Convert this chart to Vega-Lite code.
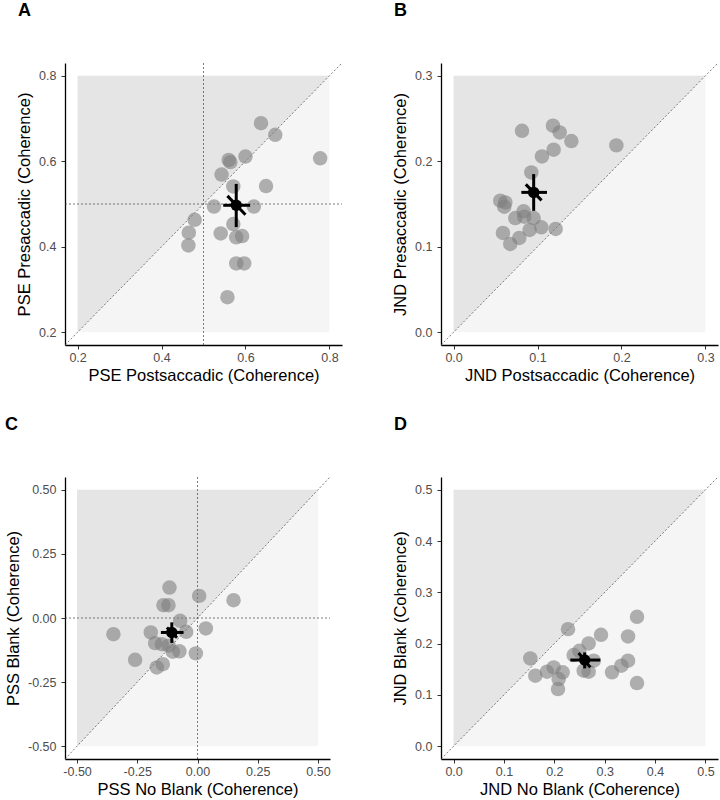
{
  "$schema": "https://vega.github.io/schema/vega-lite/v6.json",
  "padding": {"left": 5, "top": 1, "right": 0, "bottom": 2},
  "background": "white",
  "config": {
    "view": {"stroke": null},
    "font": "Liberation Sans",
    "locale": {"number": {"decimal": ".", "thousands": ",", "grouping": [3], "currency": ["$", ""], "minus": "-"}},
    "axis": {"grid": false, "domainColor": "#000", "domainWidth": 1.3, "tickColor": "#333", "tickSize": 4, "tickWidth": 1, "labelColor": "#4d4d4d", "labelFontSize": 12.5, "labelFont": "Liberation Sans", "titleFont": "Liberation Sans", "titleFontSize": 16.5, "titleFontWeight": "normal", "titleColor": "#000"},
    "axisX": {"labelPadding": 2, "titlePadding": 4},
    "axisY": {"labelPadding": 5, "titlePadding": 6},
    "title": {"fontSize": 18, "fontWeight": "bold", "font": "Liberation Sans", "anchor": "start", "frame": "group", "color": "#000"}
  },
  "datasets": {
    "box": [
      {"panel": "A", "x": 0.2, "x2": 0.8, "y": 0.2, "y2": 0.8},
      {"panel": "B", "x": 0, "x2": 0.3, "y": 0, "y2": 0.3},
      {"panel": "C", "x": -0.5, "x2": 0.5, "y": -0.5, "y2": 0.5},
      {"panel": "D", "x": 0, "x2": 0.5, "y": 0, "y2": 0.5}
    ],
    "shade": [
      {"panel": "A", "x": 0.2, "y": 0.2, "y2": 0.8},
      {"panel": "A", "x": 0.8, "y": 0.8, "y2": 0.8},
      {"panel": "B", "x": 0, "y": 0, "y2": 0.3},
      {"panel": "B", "x": 0.3, "y": 0.3, "y2": 0.3},
      {"panel": "C", "x": -0.5, "y": -0.5, "y2": 0.5},
      {"panel": "C", "x": 0.5, "y": 0.5, "y2": 0.5},
      {"panel": "D", "x": 0, "y": 0, "y2": 0.5},
      {"panel": "D", "x": 0.5, "y": 0.5, "y2": 0.5}
    ],
    "refs": [
      {"panel": "A", "x": 0.17, "y": 0.17, "x2": 0.83, "y2": 0.83},
      {"panel": "A", "x": 0.5, "y": 0.17, "x2": 0.5, "y2": 0.83},
      {"panel": "A", "x": 0.17, "y": 0.5, "x2": 0.83, "y2": 0.5},
      {"panel": "B", "x": -0.015, "y": -0.015, "x2": 0.315, "y2": 0.315},
      {"panel": "C", "x": -0.55, "y": -0.55, "x2": 0.55, "y2": 0.55},
      {"panel": "C", "x": 0, "y": -0.55, "x2": 0, "y2": 0.55},
      {"panel": "C", "x": -0.55, "y": 0, "x2": 0.55, "y2": 0},
      {"panel": "D", "x": -0.025, "y": -0.025, "x2": 0.525, "y2": 0.525}
    ],
    "pts": [
      {"panel": "A", "x": 0.637, "y": 0.689},
      {"panel": "A", "x": 0.671, "y": 0.662},
      {"panel": "A", "x": 0.778, "y": 0.607},
      {"panel": "A", "x": 0.600, "y": 0.611},
      {"panel": "A", "x": 0.560, "y": 0.603},
      {"panel": "A", "x": 0.564, "y": 0.598},
      {"panel": "A", "x": 0.543, "y": 0.569},
      {"panel": "A", "x": 0.571, "y": 0.541},
      {"panel": "A", "x": 0.649, "y": 0.542},
      {"panel": "A", "x": 0.525, "y": 0.494},
      {"panel": "A", "x": 0.620, "y": 0.494},
      {"panel": "A", "x": 0.479, "y": 0.463},
      {"panel": "A", "x": 0.465, "y": 0.433},
      {"panel": "A", "x": 0.464, "y": 0.403},
      {"panel": "A", "x": 0.541, "y": 0.431},
      {"panel": "A", "x": 0.571, "y": 0.453},
      {"panel": "A", "x": 0.578, "y": 0.422},
      {"panel": "A", "x": 0.592, "y": 0.425},
      {"panel": "A", "x": 0.578, "y": 0.361},
      {"panel": "A", "x": 0.597, "y": 0.361},
      {"panel": "A", "x": 0.557, "y": 0.282},
      {"panel": "B", "x": 0.0815, "y": 0.2357},
      {"panel": "B", "x": 0.1184, "y": 0.2416},
      {"panel": "B", "x": 0.1264, "y": 0.2338},
      {"panel": "B", "x": 0.1403, "y": 0.2236},
      {"panel": "B", "x": 0.1939, "y": 0.2186},
      {"panel": "B", "x": 0.1192, "y": 0.2135},
      {"panel": "B", "x": 0.1053, "y": 0.2057},
      {"panel": "B", "x": 0.0926, "y": 0.1870},
      {"panel": "B", "x": 0.0556, "y": 0.1539},
      {"panel": "B", "x": 0.0616, "y": 0.1519},
      {"panel": "B", "x": 0.0604, "y": 0.1469},
      {"panel": "B", "x": 0.0834, "y": 0.1414},
      {"panel": "B", "x": 0.0842, "y": 0.1352},
      {"panel": "B", "x": 0.0735, "y": 0.1336},
      {"panel": "B", "x": 0.0954, "y": 0.1336},
      {"panel": "B", "x": 0.0588, "y": 0.1161},
      {"panel": "B", "x": 0.0783, "y": 0.1103},
      {"panel": "B", "x": 0.0675, "y": 0.1032},
      {"panel": "B", "x": 0.0906, "y": 0.1196},
      {"panel": "B", "x": 0.1045, "y": 0.1227},
      {"panel": "B", "x": 0.1216, "y": 0.1208},
      {"panel": "C", "x": -0.1163, "y": 0.1187},
      {"panel": "C", "x": 0.0069, "y": 0.0863},
      {"panel": "C", "x": 0.1496, "y": 0.0694},
      {"panel": "C", "x": -0.1413, "y": 0.0499},
      {"panel": "C", "x": -0.1205, "y": 0.0499},
      {"panel": "C", "x": -0.072, "y": -0.011},
      {"panel": "C", "x": -0.349, "y": -0.063},
      {"panel": "C", "x": -0.194, "y": -0.0564},
      {"panel": "C", "x": -0.047, "y": -0.0538},
      {"panel": "C", "x": 0.0346, "y": -0.0409},
      {"panel": "C", "x": -0.176, "y": -0.098},
      {"panel": "C", "x": -0.148, "y": -0.102},
      {"panel": "C", "x": -0.120, "y": -0.108},
      {"panel": "C", "x": -0.075, "y": -0.130},
      {"panel": "C", "x": -0.1025, "y": -0.1316},
      {"panel": "C", "x": -0.0069, "y": -0.138},
      {"panel": "C", "x": -0.259, "y": -0.163},
      {"panel": "C", "x": -0.144, "y": -0.180},
      {"panel": "C", "x": -0.169, "y": -0.193},
      {"panel": "D", "x": 0.3642, "y": 0.2523},
      {"panel": "D", "x": 0.2272, "y": 0.2283},
      {"panel": "D", "x": 0.2927, "y": 0.2173},
      {"panel": "D", "x": 0.3464, "y": 0.2140},
      {"panel": "D", "x": 0.2682, "y": 0.2004},
      {"panel": "D", "x": 0.2497, "y": 0.1861},
      {"panel": "D", "x": 0.2384, "y": 0.1777},
      {"panel": "D", "x": 0.1523, "y": 0.1712},
      {"panel": "D", "x": 0.2781, "y": 0.1667},
      {"panel": "D", "x": 0.3464, "y": 0.1667},
      {"panel": "D", "x": 0.3331, "y": 0.1569},
      {"panel": "D", "x": 0.3146, "y": 0.1440},
      {"panel": "D", "x": 0.1623, "y": 0.1375},
      {"panel": "D", "x": 0.1854, "y": 0.1453},
      {"panel": "D", "x": 0.1987, "y": 0.1537},
      {"panel": "D", "x": 0.2166, "y": 0.1440},
      {"panel": "D", "x": 0.2086, "y": 0.1310},
      {"panel": "D", "x": 0.2073, "y": 0.1115},
      {"panel": "D", "x": 0.2583, "y": 0.1472},
      {"panel": "D", "x": 0.2682, "y": 0.1453},
      {"panel": "D", "x": 0.3642, "y": 0.1232}
    ],
    "err": [
      {"panel": "A", "x": 0.578, "y": 0.446, "x2": 0.578, "y2": 0.547},
      {"panel": "A", "x": 0.547, "y": 0.497, "x2": 0.611, "y2": 0.497},
      {"panel": "A", "x": 0.557, "y": 0.519, "x2": 0.600, "y2": 0.475},
      {"panel": "B", "x": 0.0954, "y": 0.142, "x2": 0.0954, "y2": 0.185},
      {"panel": "B", "x": 0.0807, "y": 0.1636, "x2": 0.1113, "y2": 0.1636},
      {"panel": "B", "x": 0.086, "y": 0.173, "x2": 0.1048, "y2": 0.1542},
      {"panel": "C", "x": -0.1066, "y": -0.097, "x2": -0.1066, "y2": -0.017},
      {"panel": "C", "x": -0.152, "y": -0.0564, "x2": -0.058, "y2": -0.0564},
      {"panel": "C", "x": -0.127, "y": -0.037, "x2": -0.085, "y2": -0.077},
      {"panel": "D", "x": 0.2603, "y": 0.1518, "x2": 0.2603, "y2": 0.1829},
      {"panel": "D", "x": 0.2318, "y": 0.168, "x2": 0.2914, "y2": 0.168},
      {"panel": "D", "x": 0.2483, "y": 0.1816, "x2": 0.2715, "y2": 0.1537}
    ],
    "means": [
      {"panel": "A", "x": 0.578, "y": 0.497},
      {"panel": "B", "x": 0.0954, "y": 0.1636},
      {"panel": "C", "x": -0.1066, "y": -0.0564},
      {"panel": "D", "x": 0.2603, "y": 0.168}
    ]
  },
  "columns": 2,
  "spacing": {"row": 132, "column": 99},
  "bounds": "flush",
  "align": "all",
  "concat": [
    {
      "width": 277, "height": 282,
      "title": {"text": "A", "dx": -47, "offset": 43},
      "encoding": {
        "x": {"field": "x", "type": "quantitative", "title": "PSE Postsaccadic (Coherence)", "scale": {"domain": [0.17, 0.83], "nice": false, "zero": false}, "axis": {"values": [0.2, 0.4, 0.6, 0.8], "format": ".1f"}},
        "y": {"field": "y", "type": "quantitative", "title": "PSE Presaccadic (Coherence)", "scale": {"domain": [0.17, 0.83], "nice": false, "zero": false}, "axis": {"values": [0.2, 0.4, 0.6, 0.8], "format": ".1f"}}
      },
      "layer": [
        {"data": {"name": "box"}, "transform": [{"filter": "datum.panel == 'A'"}], "mark": {"type": "rect", "color": "#f5f5f5"}, "encoding": {"x2": {"field": "x2"}, "y2": {"field": "y2"}}},
        {"data": {"name": "shade"}, "transform": [{"filter": "datum.panel == 'A'"}], "mark": {"type": "area", "color": "#e5e5e5", "opacity": 1}, "encoding": {"y2": {"field": "y2"}}},
        {"data": {"name": "refs"}, "transform": [{"filter": "datum.panel == 'A'"}], "mark": {"type": "rule", "color": "#444", "strokeDash": [2, 2], "strokeWidth": 0.7}, "encoding": {"x2": {"field": "x2"}, "y2": {"field": "y2"}}},
        {"data": {"name": "pts"}, "transform": [{"filter": "datum.panel == 'A'"}], "mark": {"type": "circle", "size": 210, "color": "#7f7f7f", "opacity": 0.6}},
        {"data": {"name": "err"}, "transform": [{"filter": "datum.panel == 'A'"}], "mark": {"type": "rule", "color": "#000", "strokeWidth": 3}, "encoding": {"x2": {"field": "x2"}, "y2": {"field": "y2"}}},
        {"data": {"name": "means"}, "transform": [{"filter": "datum.panel == 'A'"}], "mark": {"type": "circle", "size": 130, "color": "#000", "opacity": 1}}
      ]
    },
    {
      "width": 277, "height": 282,
      "title": {"text": "B", "dx": -47, "offset": 43},
      "encoding": {
        "x": {"field": "x", "type": "quantitative", "title": "JND Postsaccadic (Coherence)", "scale": {"domain": [-0.015, 0.315], "nice": false, "zero": false}, "axis": {"values": [0, 0.1, 0.2, 0.3], "format": ".1f"}},
        "y": {"field": "y", "type": "quantitative", "title": "JND Presaccadic (Coherence)", "scale": {"domain": [-0.015, 0.315], "nice": false, "zero": false}, "axis": {"values": [0, 0.1, 0.2, 0.3], "format": ".1f"}}
      },
      "layer": [
        {"data": {"name": "box"}, "transform": [{"filter": "datum.panel == 'B'"}], "mark": {"type": "rect", "color": "#f5f5f5"}, "encoding": {"x2": {"field": "x2"}, "y2": {"field": "y2"}}},
        {"data": {"name": "shade"}, "transform": [{"filter": "datum.panel == 'B'"}], "mark": {"type": "area", "color": "#e5e5e5", "opacity": 1}, "encoding": {"y2": {"field": "y2"}}},
        {"data": {"name": "refs"}, "transform": [{"filter": "datum.panel == 'B'"}], "mark": {"type": "rule", "color": "#444", "strokeDash": [2, 2], "strokeWidth": 0.7}, "encoding": {"x2": {"field": "x2"}, "y2": {"field": "y2"}}},
        {"data": {"name": "pts"}, "transform": [{"filter": "datum.panel == 'B'"}], "mark": {"type": "circle", "size": 210, "color": "#7f7f7f", "opacity": 0.6}},
        {"data": {"name": "err"}, "transform": [{"filter": "datum.panel == 'B'"}], "mark": {"type": "rule", "color": "#000", "strokeWidth": 3}, "encoding": {"x2": {"field": "x2"}, "y2": {"field": "y2"}}},
        {"data": {"name": "means"}, "transform": [{"filter": "datum.panel == 'B'"}], "mark": {"type": "circle", "size": 130, "color": "#000", "opacity": 1}}
      ]
    },
    {
      "width": 265, "height": 282,
      "title": {"text": "C", "dx": -60, "offset": 43},
      "encoding": {
        "x": {"field": "x", "type": "quantitative", "title": "PSS No Blank (Coherence)", "scale": {"domain": [-0.55, 0.55], "nice": false, "zero": false}, "axis": {"values": [-0.5, -0.25, 0, 0.25, 0.5], "format": ".2f"}},
        "y": {"field": "y", "type": "quantitative", "title": "PSS Blank (Coherence)", "scale": {"domain": [-0.55, 0.55], "nice": false, "zero": false}, "axis": {"values": [-0.5, -0.25, 0, 0.25, 0.5], "format": ".2f"}}
      },
      "layer": [
        {"data": {"name": "box"}, "transform": [{"filter": "datum.panel == 'C'"}], "mark": {"type": "rect", "color": "#f5f5f5"}, "encoding": {"x2": {"field": "x2"}, "y2": {"field": "y2"}}},
        {"data": {"name": "shade"}, "transform": [{"filter": "datum.panel == 'C'"}], "mark": {"type": "area", "color": "#e5e5e5", "opacity": 1}, "encoding": {"y2": {"field": "y2"}}},
        {"data": {"name": "refs"}, "transform": [{"filter": "datum.panel == 'C'"}], "mark": {"type": "rule", "color": "#444", "strokeDash": [2, 2], "strokeWidth": 0.7}, "encoding": {"x2": {"field": "x2"}, "y2": {"field": "y2"}}},
        {"data": {"name": "pts"}, "transform": [{"filter": "datum.panel == 'C'"}], "mark": {"type": "circle", "size": 210, "color": "#7f7f7f", "opacity": 0.6}},
        {"data": {"name": "err"}, "transform": [{"filter": "datum.panel == 'C'"}], "mark": {"type": "rule", "color": "#000", "strokeWidth": 3}, "encoding": {"x2": {"field": "x2"}, "y2": {"field": "y2"}}},
        {"data": {"name": "means"}, "transform": [{"filter": "datum.panel == 'C'"}], "mark": {"type": "circle", "size": 130, "color": "#000", "opacity": 1}}
      ]
    },
    {
      "width": 277, "height": 282,
      "title": {"text": "D", "dx": -47, "offset": 43},
      "encoding": {
        "x": {"field": "x", "type": "quantitative", "title": "JND No Blank (Coherence)", "scale": {"domain": [-0.025, 0.525], "nice": false, "zero": false}, "axis": {"values": [0, 0.1, 0.2, 0.3, 0.4, 0.5], "format": ".1f"}},
        "y": {"field": "y", "type": "quantitative", "title": "JND Blank (Coherence)", "scale": {"domain": [-0.025, 0.525], "nice": false, "zero": false}, "axis": {"values": [0, 0.1, 0.2, 0.3, 0.4, 0.5], "format": ".1f"}}
      },
      "layer": [
        {"data": {"name": "box"}, "transform": [{"filter": "datum.panel == 'D'"}], "mark": {"type": "rect", "color": "#f5f5f5"}, "encoding": {"x2": {"field": "x2"}, "y2": {"field": "y2"}}},
        {"data": {"name": "shade"}, "transform": [{"filter": "datum.panel == 'D'"}], "mark": {"type": "area", "color": "#e5e5e5", "opacity": 1}, "encoding": {"y2": {"field": "y2"}}},
        {"data": {"name": "refs"}, "transform": [{"filter": "datum.panel == 'D'"}], "mark": {"type": "rule", "color": "#444", "strokeDash": [2, 2], "strokeWidth": 0.7}, "encoding": {"x2": {"field": "x2"}, "y2": {"field": "y2"}}},
        {"data": {"name": "pts"}, "transform": [{"filter": "datum.panel == 'D'"}], "mark": {"type": "circle", "size": 210, "color": "#7f7f7f", "opacity": 0.6}},
        {"data": {"name": "err"}, "transform": [{"filter": "datum.panel == 'D'"}], "mark": {"type": "rule", "color": "#000", "strokeWidth": 3}, "encoding": {"x2": {"field": "x2"}, "y2": {"field": "y2"}}},
        {"data": {"name": "means"}, "transform": [{"filter": "datum.panel == 'D'"}], "mark": {"type": "circle", "size": 130, "color": "#000", "opacity": 1}}
      ]
    }
  ]
}
